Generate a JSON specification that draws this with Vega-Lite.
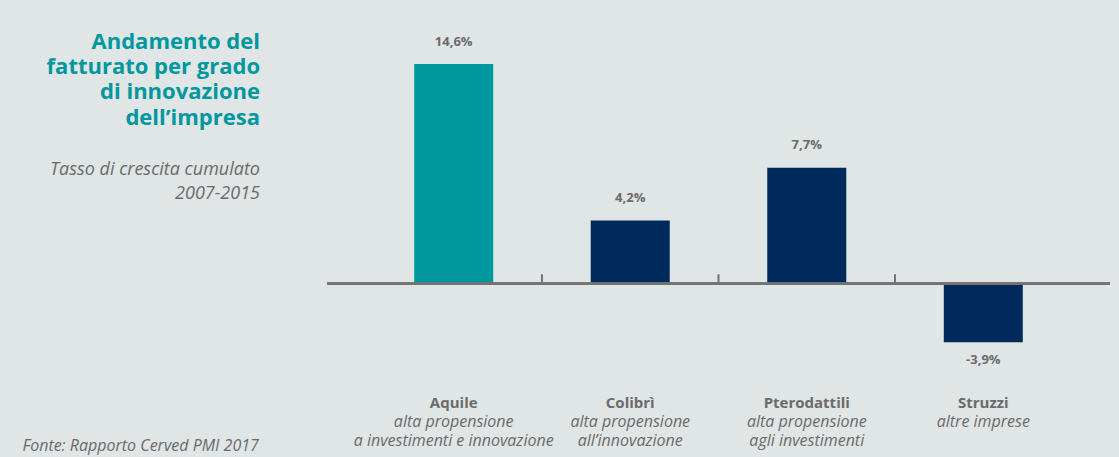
{
  "$schema": "https://vega.github.io/schema/vega-lite/v6.json",
  "width": 783,
  "height": 346,
  "autosize": {"type": "none"},
  "padding": {"left": 327, "top": 43, "right": 9, "bottom": 68},
  "background": "#e0e5e5",
  "title": {
    "text": ["Andamento del", "fatturato per grado", "di innovazione", "dell’impresa"],
    "subtitle": ["Tasso di crescita cumulato", "2007-2015"],
    "orient": "top", "anchor": "start", "align": "right", "frame": "group",
    "dx": -67, "dy": 168, "offset": 0,
    "font": "Open Sans", "fontSize": 22, "fontWeight": "bold", "color": "#00979f", "lineHeight": 25.3,
    "subtitleFont": "Open Sans", "subtitleFontSize": 18, "subtitleFontStyle": "italic",
    "subtitleColor": "#6b6b6b", "subtitleLineHeight": 24, "subtitlePadding": 31
  },
  "data": {
    "values": [
      {"impresa": "Aquile", "crescita": 0.146},
      {"impresa": "Colibrì", "crescita": 0.042},
      {"impresa": "Pterodattili", "crescita": 0.077},
      {"impresa": "Struzzi", "crescita": -0.039}
    ]
  },
  "resolve": {"axis": {"x": "independent"}},
  "layer": [
    {
      "mark": {"type": "bar"},
      "encoding": {
        "x": {
          "field": "impresa", "type": "nominal", "sort": null,
          "scale": {"paddingInner": 0.5524, "paddingOuter": 0.494},
          "axis": {
            "orient": "bottom", "title": null, "ticks": false, "domain": false,
            "labelAngle": 0, "labelPadding": 6, "labelFont": "Open Sans", "labelFontSize": 15,
            "labelFontWeight": "bold", "labelColor": "#6b6b6b", "labelOverlap": false, "labelLimit": 400
          }
        },
        "y": {
          "field": "crescita", "type": "quantitative",
          "scale": {"domain": [-0.07, 0.16], "nice": false, "zero": false},
          "axis": null
        },
        "color": {
          "field": "impresa", "type": "nominal",
          "scale": {"domain": ["Aquile", "Colibrì", "Pterodattili", "Struzzi"], "range": ["#00979f", "#002a5c", "#002a5c", "#002a5c"]},
          "legend": null
        }
      }
    },
    {
      "mark": {"type": "rule", "stroke": "#737373", "strokeWidth": 2.5},
      "encoding": {"y": {"datum": 0, "type": "quantitative"}}
    },
    {
      "transform": [{"filter": "datum.impresa != 'Struzzi'"}],
      "mark": {"type": "rule", "stroke": "#737373", "strokeWidth": 2},
      "encoding": {
        "x": {
          "field": "impresa", "type": "nominal", "sort": null, "bandPosition": 1.617,
          "axis": {
            "orient": "bottom", "ticks": false, "domain": false, "labelAngle": 0,
            "labelPadding": 24, "labelFont": "Open Sans", "labelFontSize": 16,
            "labelFontStyle": "italic", "labelColor": "#6b6b6b", "labelLineHeight": 19.7,
            "labelOverlap": false, "labelLimit": 400, "labelBaseline": "top",
            "labelExpr": "datum.value == 'Aquile' ? ['alta propensione', 'a investimenti e innovazione'] : datum.value == 'Colibrì' ? ['alta propensione', 'all’innovazione'] : datum.value == 'Pterodattili' ? ['alta propensione', 'agli investimenti'] : ['altre imprese']",
            "title": "Fonte: Rapporto Cerved PMI 2017",
            "titleX": -305, "titleY": 56, "titleAlign": "left", "titleBaseline": "middle",
            "titleFont": "Open Sans", "titleFontSize": 16, "titleFontStyle": "italic",
            "titleFontWeight": "normal", "titleColor": "#6b6b6b"
          }
        },
        "y": {"datum": 0, "type": "quantitative"},
        "y2": {"datum": 0.0063}
      }
    },
    {
      "transform": [{"filter": "datum.crescita >= 0"}],
      "mark": {"type": "text", "baseline": "middle", "dy": -22.5, "font": "Open Sans", "fontSize": 13, "fontWeight": "bold", "color": "#6b6b6b"},
      "encoding": {
        "x": {"field": "impresa", "type": "nominal", "sort": null, "axis": null},
        "y": {"field": "crescita", "type": "quantitative"},
        "text": {"field": "crescita", "type": "quantitative", "format": ".1%"}
      }
    },
    {
      "transform": [{"filter": "datum.crescita < 0"}],
      "mark": {"type": "text", "baseline": "middle", "dy": 18, "font": "Open Sans", "fontSize": 13, "fontWeight": "bold", "color": "#6b6b6b"},
      "encoding": {
        "x": {"field": "impresa", "type": "nominal", "sort": null, "axis": null},
        "y": {"field": "crescita", "type": "quantitative"},
        "text": {"field": "crescita", "type": "quantitative", "format": ".1%"}
      }
    }
  ],
  "config": {
    "view": {"stroke": null},
    "locale": {
      "number": {"decimal": ",", "thousands": ".", "grouping": [3], "currency": ["€", ""], "minus": "-"}
    }
  }
}
